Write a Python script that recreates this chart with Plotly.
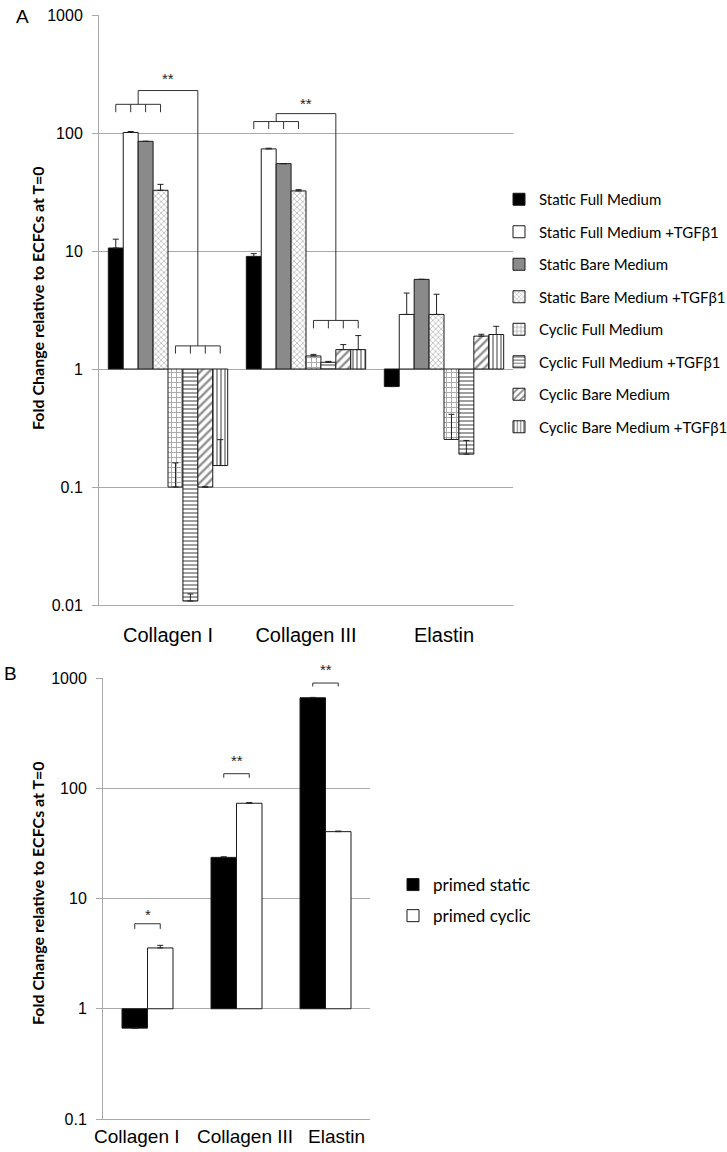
import math
import plotly.graph_objects as go

W, H = 727, 1152

# ---------------- data: panel A ----------------
genes = ["Collagen I", "Collagen III", "Elastin"]
series_a = [
    "Static Full Medium",
    "Static Full Medium +TGFβ1",
    "Static Bare Medium",
    "Static Bare Medium +TGFβ1",
    "Cyclic Full Medium",
    "Cyclic Full Medium +TGFβ1",
    "Cyclic Bare Medium",
    "Cyclic Bare Medium +TGFβ1",
]
static_full = [10.6, 9.0, 0.71]
static_full_err = [2.0, 0.5, 0.0]
static_full_tgf = [101.0, 73.3, 2.9]
static_full_tgf_err = [2.0, 1.0, 1.5]
static_bare = [85.0, 55.0, 5.75]
static_bare_err = [0.0, 0.0, 0.0]
static_bare_tgf = [32.7, 32.3, 2.9]
static_bare_tgf_err = [4.0, 0.8, 1.4]
cyclic_full = [0.100, 1.29, 0.253]
cyclic_full_err = [0.06, 0.04, 0.16]
cyclic_full_tgf = [0.0108, 1.14, 0.19]
cyclic_full_tgf_err = [0.0016, 0.02, 0.058]
cyclic_bare = [0.100, 1.46, 1.90]
cyclic_bare_err = [0.0, 0.15, 0.07]
cyclic_bare_tgf = [0.152, 1.46, 1.96]
cyclic_bare_tgf_err = [0.10, 0.46, 0.34]

values_a = [static_full, static_full_tgf, static_bare, static_bare_tgf,
            cyclic_full, cyclic_full_tgf, cyclic_bare, cyclic_bare_tgf]
errors_a = [static_full_err, static_full_tgf_err, static_bare_err, static_bare_tgf_err,
            cyclic_full_err, cyclic_full_tgf_err, cyclic_bare_err, cyclic_bare_tgf_err]

# ---------------- data: panel B ----------------
series_b = ["primed static", "primed cyclic"]
primed_static = [0.667, 23.6, 662.0]
primed_static_err = [0.0, 0.3, 5.0]
primed_cyclic = [3.56, 73.1, 40.4]
primed_cyclic_err = [0.2, 1.0, 0.5]

ytick_vals_a = [0.01, 0.1, 1, 10, 100, 1000]
ytick_text_a = ["0.01", "0.1", "1", "10", "100", "1000"]
ytick_vals_b = [0.1, 1, 10, 100, 1000]
ytick_text_b = ["0.1", "1", "10", "100", "1000"]

# ---------------- styles ----------------
styles_a = [
    dict(color="black", pattern=None),
    dict(color="white", pattern=None),
    dict(color="#8a8a8a", pattern=None),
    dict(color="white", pattern=dict(shape="x", fgcolor="#707070", bgcolor="white", size=4, solidity=0.35)),
    dict(color="white", pattern=dict(shape="+", fgcolor="#555555", bgcolor="white", size=5, solidity=0.35)),
    dict(color="white", pattern=dict(shape="-", fgcolor="#404040", bgcolor="white", size=4, solidity=0.5)),
    dict(color="white", pattern=dict(shape="/", fgcolor="#222222", bgcolor="white", size=6, solidity=0.4)),
    dict(color="white", pattern=dict(shape="|", fgcolor="#404040", bgcolor="white", size=4, solidity=0.5)),
]
styles_b = ["black", "white"]

GRID = "#a9a9a9"
TICKFONT = dict(family="Liberation Sans, Arial", size=16, color="black")

A_X = (99, 513)
A_Y = (605, 15)
B_X = (103, 370)
B_Y = (1119, 678)
B_LABEL_X = [137, 245, 336]   # label centres in panel B (px)
B_LABEL_Y = 1136


def px(x):
    return x / W


def py(y):
    return 1 - y / H


fig = go.Figure()

for name, vals, errs, sty in zip(series_a, values_a, errors_a, styles_a):
    marker = dict(color=sty["color"], line=dict(color="#1a1a1a", width=1))
    if sty["pattern"] is not None:
        marker["pattern"] = sty["pattern"]
    fig.add_trace(go.Bar(
        x=genes, y=[v - 1 for v in vals], base=1, name=name,
        marker=marker,
        error_y=dict(type="data", array=errs, arrayminus=[0] * len(errs), symmetric=False,
                     color="#222222", thickness=1, width=3),
        xaxis="x", yaxis="y", legend="legend", legendgroup=name,
    ))

BARGAP_A = 0.135
BARGAP_B = 0.427
nb = len(series_b)
wb = (1 - BARGAP_B) / nb

for i, (name, vals, errs, col) in enumerate(zip(series_b, [primed_static, primed_cyclic],
                                                [primed_static_err, primed_cyclic_err], styles_b)):
    fig.add_trace(go.Bar(
        x=genes, y=[v - 1 for v in vals], base=1, name=name,
        width=wb, offset=-wb * nb / 2 + i * wb,
        marker=dict(color=col, line=dict(color="#1a1a1a", width=1)),
        error_y=dict(type="data", array=errs, arrayminus=[0] * len(errs), symmetric=False,
                     color="#222222", thickness=1, width=3),
        xaxis="x2", yaxis="y2", legend="legend2", legendgroup=name,
    ))

fig.update_layout(
    width=W, height=H,
    margin=dict(l=0, r=0, t=0, b=0, autoexpand=False),
    paper_bgcolor="white", plot_bgcolor="white",
    barmode="group", bargap=BARGAP_A, bargroupgap=0,
    showlegend=True,
    xaxis=dict(domain=[px(A_X[0]), px(A_X[1])], anchor="y", type="category",
               showgrid=False, showline=True, linecolor=GRID, ticks="",
               tickfont=dict(family="Liberation Sans, Arial", size=20, color="black"),
               ticklabelstandoff=12),
    yaxis=dict(domain=[py(A_Y[0]), py(A_Y[1])], anchor="x", type="log", range=[-2, 3],
               tickvals=ytick_vals_a, ticktext=ytick_text_a,
               showgrid=True, gridcolor=GRID, gridwidth=1,
               showline=True, linecolor=GRID, ticks="outside", ticklen=6, tickcolor=GRID,
               tickfont=TICKFONT, ticklabelstandoff=6, zeroline=False),
    xaxis2=dict(domain=[px(B_X[0]), px(B_X[1])], anchor="y2", type="category",
                showgrid=False, showline=True, linecolor=GRID, ticks="",
                showticklabels=False),
    yaxis2=dict(domain=[py(B_Y[0]), py(B_Y[1])], anchor="x2", type="log", range=[-1, 3],
                tickvals=ytick_vals_b, ticktext=ytick_text_b,
                showgrid=True, gridcolor=GRID, gridwidth=1,
                showline=True, linecolor=GRID, ticks="outside", ticklen=6, tickcolor=GRID,
                tickfont=TICKFONT, ticklabelstandoff=6, zeroline=False),
    legend=dict(x=px(499), y=py(183), xanchor="left", yanchor="top",
                font=dict(family="Lato", size=15, color="black"),
                tracegroupgap=10, bgcolor="rgba(0,0,0,0)", itemwidth=30),
    legend2=dict(x=px(393), y=py(867), xanchor="left", yanchor="top",
                 font=dict(family="Lato", size=17, color="black"),
                 tracegroupgap=6, bgcolor="rgba(0,0,0,0)", itemwidth=30),
)

# ---------------- significance brackets ----------------
shapes = []
annos = []
LINE = dict(color="#333333", width=1)
STARFONT = dict(family="Liberation Sans, Arial", size=15, color="#222")


def seg(xr, yr, x0, y0, x1, y1):
    shapes.append(dict(type="line", xref=xr, yref=yr, x0=x0, y0=y0, x1=x1, y1=y1, line=LINE))


def log_to_paper(v, lo, hi, ypx):
    frac = (math.log10(v) - lo) / (hi - lo)
    d0, d1 = py(ypx[0]), py(ypx[1])
    return d0 + frac * (d1 - d0)


def cat_to_paper(c, xpx, ncat=3):
    x0, x1 = px(xpx[0]), px(xpx[1])
    return x0 + (c + 0.5) / ncat * (x1 - x0)


n = len(series_a)
w = (1 - BARGAP_A) / n


def bar_x(cat, k):
    return cat + (k - (n - 1) / 2) * w


def group_bracket(cat, ks, ytop, yleg):
    seg("x", "y", bar_x(cat, ks[0]), ytop, bar_x(cat, ks[-1]), ytop)
    for k in ks:
        seg("x", "y", bar_x(cat, k), ytop, bar_x(cat, k), yleg)


# panel A: Collagen I and Collagen III
brackets_a = [
    # cat, static top, static leg, joint top, cyclic top, cyclic leg, star y
    (0, 175, 150, 229, 1.57, 1.35, 287),
    (1, 125, 108, 146, 2.58, 2.21, 178),
]
for cat, st, sl, jt, ct, cl, sy in brackets_a:
    group_bracket(cat, [0, 1, 2, 3], st, sl)
    group_bracket(cat, [4, 5, 6, 7], ct, cl)
    xl = cat - 2 * w
    xr = cat + 2 * w
    seg("x", "y", xl, st, xl, jt)
    seg("x", "y", xl, jt, xr, jt)
    seg("x", "y", xr, jt, xr, ct)
    annos.append(dict(xref="paper", yref="paper", x=cat_to_paper(cat, A_X),
                      y=log_to_paper(sy, -2, 3, A_Y), text="**", showarrow=False,
                      xanchor="center", yanchor="middle", font=STARFONT))

# panel B
brackets_b = [
    (0, 5.9, 5.3, 7.2, "*"),
    (1, 135.5, 124.5, 178, "**"),
    (2, 900, 838, 1200, "**"),
]
for cat, top, leg, sy, txt in brackets_b:
    x0 = cat - wb / 2
    x1 = cat + wb / 2
    seg("x2", "y2", x0, top, x1, top)
    seg("x2", "y2", x0, top, x0, leg)
    seg("x2", "y2", x1, top, x1, leg)
    annos.append(dict(xref="paper", yref="paper", x=cat_to_paper(cat, B_X),
                      y=log_to_paper(sy, -1, 3, B_Y), text=txt, showarrow=False,
                      xanchor="center", yanchor="middle", font=STARFONT))

# panel B category labels (placed as in the reference, slightly spread)
for g, lx in zip(genes, B_LABEL_X):
    annos.append(dict(xref="paper", yref="paper", x=px(lx), y=py(B_LABEL_Y), text=g,
                      showarrow=False, xanchor="center", yanchor="middle",
                      font=dict(family="Liberation Sans, Arial", size=19, color="black")))

# panel letters and axis titles
annos.append(dict(xref="paper", yref="paper", x=px(22), y=py(17), text="A", showarrow=False,
                  xanchor="center", yanchor="middle",
                  font=dict(family="Liberation Sans, Arial", size=19, color="black")))
annos.append(dict(xref="paper", yref="paper", x=px(10), y=py(673), text="B", showarrow=False,
                  xanchor="center", yanchor="middle",
                  font=dict(family="Liberation Sans, Arial", size=19, color="black")))
ytitle = "<b>Fold Change relative to ECFCs at T=0</b>"
annos.append(dict(xref="paper", yref="paper", x=px(37), y=py(298), text=ytitle, textangle=-90,
                  xanchor="center", yanchor="middle",
                  showarrow=False, font=dict(family="Lato", size=16, color="black")))
annos.append(dict(xref="paper", yref="paper", x=px(37), y=py(893), text=ytitle, textangle=-90,
                  xanchor="center", yanchor="middle",
                  showarrow=False, font=dict(family="Lato", size=16, color="black")))

fig.update_layout(shapes=shapes, annotations=annos)

fig.write_html("out.html", config={"displayModeBar": False},
               post_script="document.body.style.margin='0px';")
